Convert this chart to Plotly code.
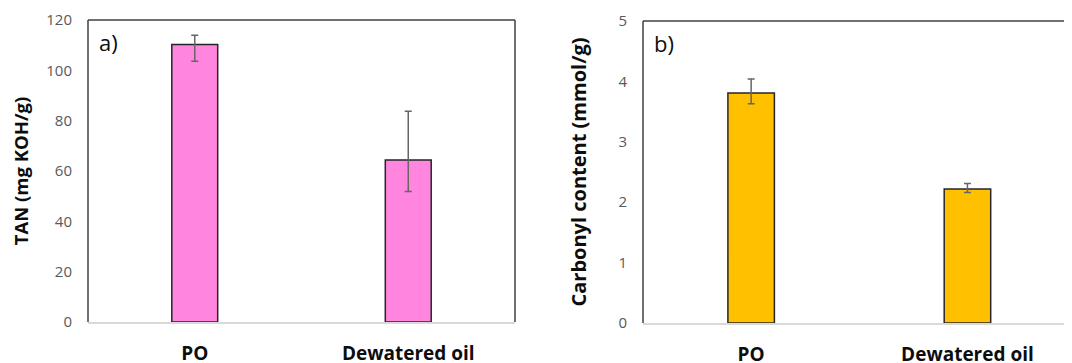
import plotly.graph_objects as go

categories = ["PO", "Dewatered oil"]
tan_values = [110.3, 64.4]
tan_err_plus = [3.6, 19.3]
tan_err_minus = [6.7, 12.5]
carbonyl_values = [3.81, 2.22]
carbonyl_err_plus = [0.23, 0.09]
carbonyl_err_minus = [0.18, 0.06]
panel_labels = ["a)", "b)"]
y_titles = ["TAN (mg KOH/g)", "Carbonyl content (mmol/g)"]

FONT = "Open Sans"
W, H = 1072, 363
OFF = 8  # page body margin offset

fig = go.Figure()

fig.add_trace(go.Bar(
    x=categories, y=tan_values, width=0.215,
    marker=dict(color="#FF85DE", line=dict(color="#262626", width=1.5)),
    error_y=dict(type="data", symmetric=False, array=tan_err_plus, arrayminus=tan_err_minus,
                 color="#666666", thickness=1.5, width=3.5),
    xaxis="x", yaxis="y", showlegend=False,
))
fig.add_trace(go.Bar(
    x=categories, y=carbonyl_values, width=0.215,
    marker=dict(color="#FFC000", line=dict(color="#262626", width=1.5)),
    error_y=dict(type="data", symmetric=False, array=carbonyl_err_plus, arrayminus=carbonyl_err_minus,
                 color="#666666", thickness=1.5, width=3.5),
    xaxis="x2", yaxis="y2", showlegend=False,
))

dom1 = [(88 - OFF) / W, (515 - OFF) / W]
dom2 = [(643 - OFF) / W, (1075.6 - OFF) / W]
ydom1 = [(H - (322 - OFF)) / H, (H - (20 - OFF)) / H]
ydom2 = [(H - (323 - OFF)) / H, (H - (21 - OFF)) / H]

xcommon = dict(type="category", showline=True, linecolor="#D9D9D9", linewidth=1.5,
               showgrid=False, zeroline=False, ticks="", automargin=False,
               tickfont=dict(family=FONT, size=19, color="#0D0D0D", weight="bold"),
               ticklabelstandoff=13)
ycommon = dict(showline=False, showgrid=False, zeroline=False, ticks="", automargin=False,
               tickfont=dict(family=FONT, size=15, color="#595959"))

fig.update_layout(
    template="none",
    width=W, height=H,
    margin=dict(l=0, r=0, t=0, b=0),
    plot_bgcolor="white", paper_bgcolor="white",
    xaxis=dict(domain=dom1, anchor="y", range=[-0.5, 1.5], **xcommon),
    xaxis2=dict(domain=dom2, anchor="y2", range=[-0.5, 1.5], **xcommon),
    yaxis=dict(domain=ydom1, anchor="x", range=[0, 120], dtick=20, ticklabelstandoff=15,
               title=dict(text=y_titles[0], standoff=12,
                          font=dict(family=FONT, size=18.5, color="#0D0D0D", weight="bold")),
               **ycommon),
    yaxis2=dict(domain=ydom2, anchor="x2", range=[0, 5], dtick=1, ticklabelstandoff=15,
                title=dict(text=y_titles[1], standoff=26,
                           font=dict(family=FONT, size=20, color="#0D0D0D", weight="bold")),
                **ycommon),
)

# frame lines (left, top, right) in axis-domain coordinates
for xr, yr in [("x domain", "y domain"), ("x2 domain", "y2 domain")]:
    for (x0, y0, x1, y1) in [(0, 0, 0, 1), (0, 1, 1, 1), (1, 0, 1, 1)]:
        fig.add_shape(type="line", xref=xr, yref=yr, x0=x0, y0=y0, x1=x1, y1=y1,
                      line=dict(color="#404040", width=1.5), layer="above")

for lab, xr, yr in [(panel_labels[0], "x domain", "y domain"), (panel_labels[1], "x2 domain", "y2 domain")]:
    fig.add_annotation(text=lab, xref=xr, yref=yr, x=0.02, y=0.985, xanchor="left", yanchor="top",
                       showarrow=False, font=dict(family=FONT, size=22, color="#0D0D0D"))

fig.write_html("out.html")
